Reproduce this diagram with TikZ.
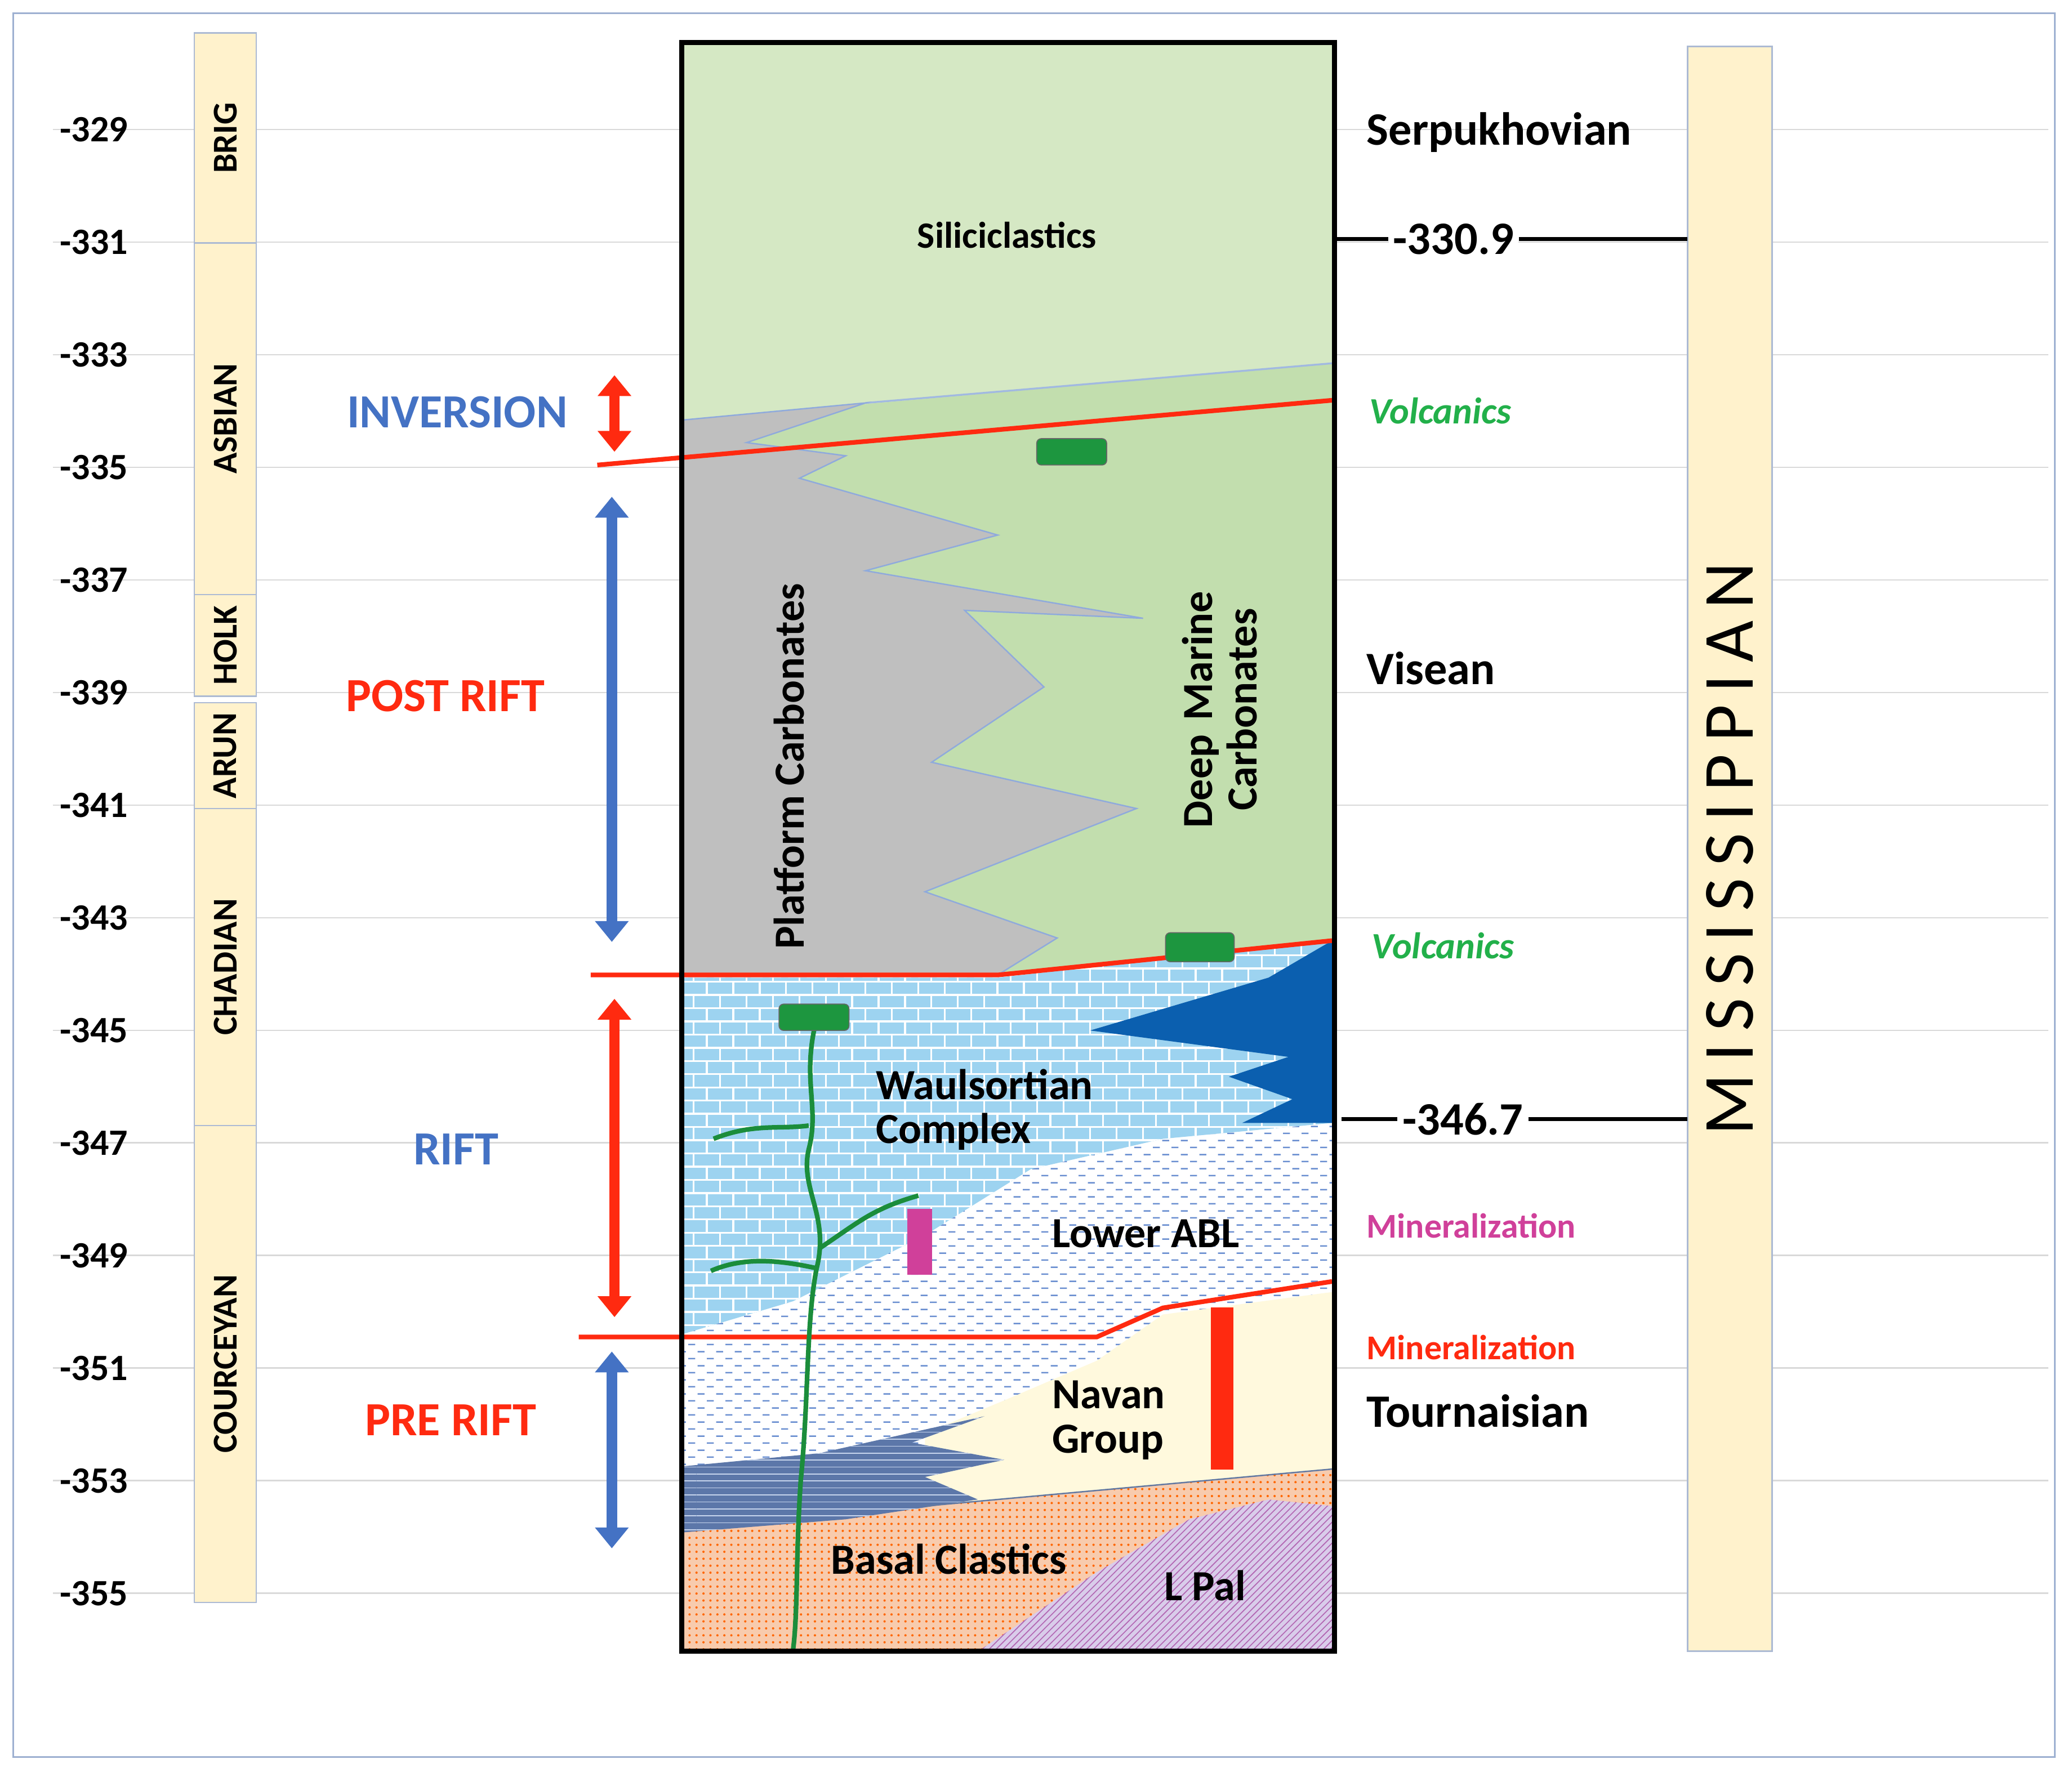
\documentclass[tikz,border=0pt]{standalone}
\usepackage{fontspec}
\setmainfont{Carlito}
\usetikzlibrary{patterns,arrows.meta}
\pgfdeclarepatternformonly{mydashes}{\pgfpointorigin}{\pgfpoint{8pt}{6pt}}{\pgfpoint{8pt}{6pt}}{
  \pgfsetlinewidth{0.6pt}
  \pgfpathmoveto{\pgfpoint{0.5pt}{1pt}}\pgfpathlineto{\pgfpoint{3.5pt}{1pt}}
  \pgfpathmoveto{\pgfpoint{4.5pt}{4pt}}\pgfpathlineto{\pgfpoint{7.5pt}{4pt}}
  \pgfusepath{stroke}}
\definecolor{cream}{HTML}{FFF2CC}
\definecolor{sili}{HTML}{D5E8C4}
\definecolor{deep}{HTML}{C2DEAE}
\definecolor{plat}{HTML}{BFBFBF}
\definecolor{waul}{HTML}{9DD3F0}
\definecolor{dkblue}{HTML}{0B5FAF}
\definecolor{navan}{HTML}{FFF9DD}
\definecolor{basal}{HTML}{F8CBAD}
\definecolor{lpal}{HTML}{D9CCEA}
\definecolor{gridc}{HTML}{D9D9D9}
\definecolor{lblue}{HTML}{4472C4}
\definecolor{lred}{HTML}{FF2A10}
\definecolor{vgreen}{HTML}{22B04A}
\definecolor{magen}{HTML}{D0409A}
\tikzset{
 stage/.style={draw=gridc!70!lblue,fill=cream,line width=0.6pt},
 stlab/.style={rotate=90,font=\fontsize{15}{15}\selectfont\bfseries},
 axl/.style={anchor=east,font=\fontsize{16}{16}\selectfont\bfseries},
 big/.style={font=\fontsize{20}{20}\selectfont\bfseries},
 inl/.style={font=\fontsize{18.5}{19}\selectfont\bfseries},
 phase/.style={font=\fontsize{20.5}{20}\selectfont\bfseries},
 rl/.style={lred,line width=2pt},
 arr/.style={line width=4.5pt,{Triangle[length=9pt,width=14pt]}-{Triangle[length=9pt,width=14pt]}},
 vol/.style={fill=vgreen!85!black,draw=black!60,rounded corners=2pt},
 volt/.style={text=vgreen,font=\fontsize{16}{16}\selectfont\bfseries\itshape},
 tree/.style={vgreen!80!black,line width=2pt},
}
\begin{document}
\begin{tikzpicture}[x=0.02cm,y=-0.02cm]
\useasboundingbox (0,0) rectangle (1568,1338);
\fill[white] (0,0) rectangle (1568,1338);
\draw[gridc!60!lblue,line width=0.8pt] (10,10) rectangle (1555,1330);
% grid and axis
\foreach \v [count=\i from 0] in {329,331,...,355}{
  \draw[gridc,line width=0.6pt] (40,98+85.23*\i) -- (1550,98+85.23*\i);
  \node[axl] (t\i) at (103,98+85.23*\i) {-\v};
}
% stages
\node[stage,minimum width=0.94cm,minimum height=3.18cm] (brig) at (170.5,104.5) {};
\node[stlab] at (brig) {BRIG};
\node[stage,minimum width=0.94cm,minimum height=5.32cm] (asb) at (170.5,317) {};
\node[stlab] at (asb) {ASBIAN};
\node[stage,minimum width=0.94cm,minimum height=1.54cm] (holk) at (170.5,488.5) {};
\node[stlab] at (holk) {HOLK};
\node[stage,minimum width=0.94cm,minimum height=1.6cm] (arun) at (170.5,572) {};
\node[stlab] at (arun) {ARUN};
\node[stage,minimum width=0.94cm,minimum height=4.8cm] (chad) at (170.5,732) {};
\node[stlab] at (chad) {CHADIAN};
\node[stage,minimum width=0.94cm,minimum height=7.22cm] (cour) at (170.5,1032.5) {};
\node[stlab] at (cour) {COURCEYAN};
% Mississippian
\node[stage,minimum width=1.28cm,minimum height=24.3cm] (miss) at (1309,642.5) {};
\node[rotate=90,font=\fontsize{31}{31}\selectfont] at (miss) {M\,I\,S\,S\,I\,S\,S\,I\,P\,P\,I\,A\,N};
% main column fills
\fill[sili] (516,32) rectangle (1010,740);
\fill[white] (516,700) rectangle (1010,1250);
\fill[pattern=mydashes,pattern color=lblue!80] (516,700) rectangle (1010,1250);
\fill[waul] (516,740) -- (755,740) -- (1008,712) -- (1008,850) -- (880,862) -- (780,885) -- (700,935) -- (600,985) -- (516,1010) -- cycle;
\fill[pattern=bricks,pattern color=white] (516,740) -- (755,740) -- (1008,712) -- (1008,850) -- (880,862) -- (780,885) -- (700,935) -- (600,985) -- (516,1010) -- cycle;
\fill[dkblue] (1008,712) -- (960,740) -- (825,780) -- (975,800) -- (930,815) -- (978,832) -- (940,850) -- (1008,850) -- cycle;
\fill[navan] (700,1085) -- (760,1060) -- (830,1030) -- (880,995) -- (1008,978) -- (1008,1112) -- (700,1140) -- cycle;
\fill[basal] (516,1160) -- (700,1140) -- (1008,1112) -- (1008,1250) -- (516,1250) -- cycle;
\fill[pattern=dots,pattern color=orange!80!red] (516,1160) -- (700,1140) -- (1008,1112) -- (1008,1250) -- (516,1250) -- cycle;
\fill[lpal] (740,1250) -- (830,1190) -- (900,1150) -- (960,1135) -- (1008,1140) -- (1008,1250) -- cycle;
\fill[pattern=north east lines,pattern color=violet!60] (740,1250) -- (830,1190) -- (900,1150) -- (960,1135) -- (1008,1140) -- (1008,1250) -- cycle;
\fill[lblue!60!gray] (516,1110) -- (620,1100) -- (745,1072) -- (690,1092) -- (760,1105) -- (700,1118) -- (740,1135) -- (640,1150) -- (516,1160) -- cycle;
\fill[pattern=horizontal lines,pattern color=white!70!lblue] (516,1110) -- (620,1100) -- (745,1072) -- (690,1092) -- (760,1105) -- (700,1118) -- (740,1135) -- (640,1150) -- (516,1160) -- cycle;
\draw[lblue!50!gray,line width=0.6pt] (700,1140) -- (1008,1112);
\fill[deep] (516,318) -- (1008,275) -- (1008,712) -- (755,738) -- (516,738) -- cycle;
\draw[lblue!50,line width=0.8pt] (655,305) -- (1008,275);
\fill[plat,draw=lblue!60,line width=0.6pt] (516,318) -- (655,305) -- (565,335) -- (640,345) -- (605,362) -- (755,405) -- (655,432) -- (865,468) -- (730,462) -- (790,520) -- (705,577) -- (860,612) -- (700,675) -- (800,710) -- (755,738) -- (516,738) -- cycle;
% red lines
\coordinate (r1a) at (452,352); \coordinate (r1b) at (1008,303);
\draw[rl] (r1a) -- (r1b);
\coordinate (r2a) at (447,738); \coordinate (r2b) at (1008,712);
\draw[rl] (r2a) -- (755,738) -- (r2b);
\coordinate (r3a) at (438,1012); \coordinate (r3b) at (1008,970);
\draw[rl] (r3a) -- (830,1012) -- (880,990) -- (r3b);
% tree
\draw[tree] (616,780) .. controls (608,820) and (620,840) .. (612,870) .. controls (605,900) and (628,920) .. (618,960) .. controls (610,1000) and (612,1060) .. (606,1120) .. controls (602,1180) and (604,1220) .. (600,1250);
\draw[tree] (612,852) .. controls (590,855) and (570,850) .. (540,862);
\draw[tree] (618,960) .. controls (595,955) and (565,950) .. (538,962);
\draw[tree] (620,945) .. controls (650,925) and (660,915) .. (695,905);
% bars and volcanics
\node[vol,minimum width=1.06cm,minimum height=0.4cm] (v1) at (811,342) {};
\node[vol,minimum width=1.04cm,minimum height=0.44cm] (v2) at (908,717) {};
\node[vol,minimum width=1.06cm,minimum height=0.4cm] (v3) at (616,770) {};
\node[fill=magen,minimum width=0.38cm,minimum height=1cm,inner sep=0] (mg) at (696,940) {};
\node[fill=lred,minimum width=0.34cm,minimum height=2.46cm,inner sep=0] (rb) at (925,1051) {};
% box
\draw[black,line width=2.2pt] (516,32) rectangle (1010,1250);
% column labels
\node[font=\fontsize{16}{16}\selectfont\bfseries] at (762,178) {Siliciclastics};
\node[inl,rotate=90] at (597,580) {Platform Carbonates};
\node[inl,rotate=90,align=center,text width=5cm] at (923,537) {Deep Marine\\Carbonates};
\node[inl,align=left] at (745,840) {Waulsortian\\Complex};
\node[inl] at (867,934) {Lower ABL};
\node[inl,align=left] at (839,1075) {Navan\\Group};
\node[inl] at (718,1180) {Basal Clastics};
\node[inl] at (912,1200) {L Pal};
% arrows
\draw[arr,lred] (465,284) -- (465,342);
\draw[arr,lblue] (463,376) -- (463,713);
\draw[arr,lred] (465,756) -- (465,997);
\draw[arr,lblue] (463,1023) -- (463,1172);
\node[phase,text=lblue] at (346,312) {INVERSION};
\node[phase,text=lred] at (337,527) {POST RIFT};
\node[phase,text=lblue] at (345,870) {RIFT};
\node[phase,text=lred] at (341,1075) {PRE RIFT};
% right labels
\node[big,anchor=west] at (1028,100) {Serpukhovian};
\node[big,fill=white,inner sep=2pt] (a1) at (1100,181) {-330.9};
\draw[line width=1.6pt] (1010,181) -- (a1.west);
\draw[line width=1.6pt] (a1.east) -- (1277,181);
\node[volt,anchor=west] at (1030,311) {Volcanics};
\node[big,anchor=west] at (1028,506) {Visean};
\node[volt,anchor=west] at (1032,716) {Volcanics};
\node[big,fill=white,inner sep=2pt] (a2) at (1107,847) {-346.7};
\draw[line width=1.6pt] (1015,847) -- (a2.west);
\draw[line width=1.6pt] (a2.east) -- (1277,847);
\node[anchor=west,text=magen,font=\fontsize{15}{15}\selectfont\bfseries] at (1028,928) {Mineralization};
\node[anchor=west,text=lred,font=\fontsize{15}{15}\selectfont\bfseries] at (1028,1020) {Mineralization};
\node[big,anchor=west] at (1028,1068) {Tournaisian};
\end{tikzpicture}
\end{document}
